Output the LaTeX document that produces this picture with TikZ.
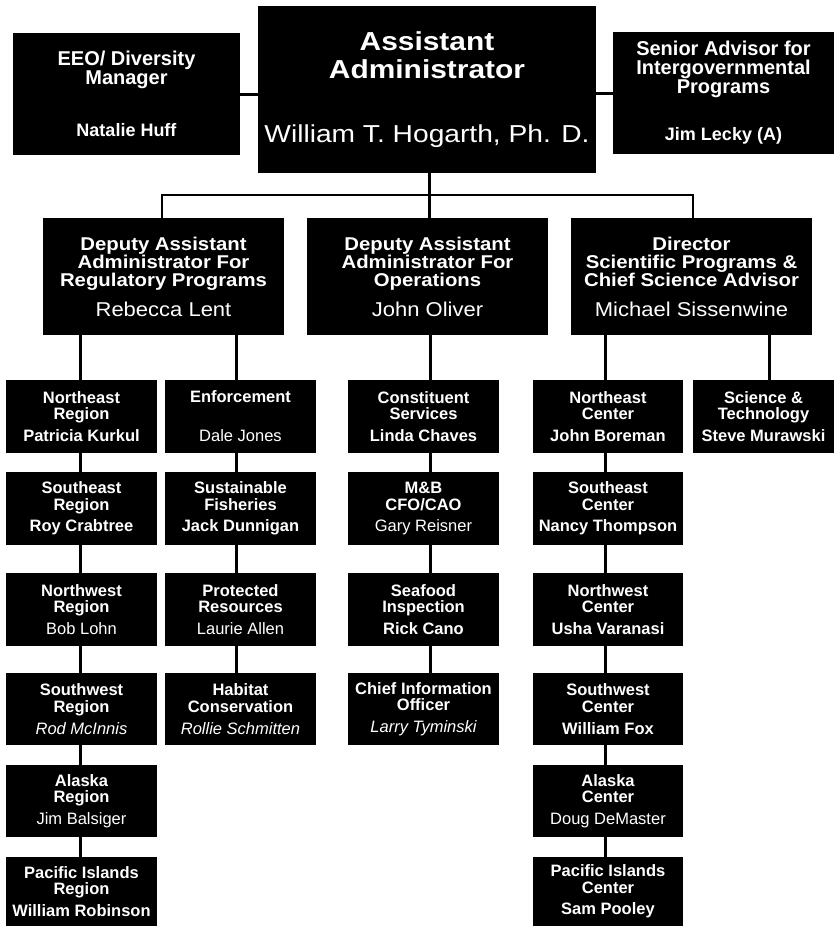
\documentclass[tikz,border=0pt]{standalone}
\usepackage{fontspec}
\setmainfont{Liberation Sans}
\newfontfamily\stretchA{Liberation Sans}[FakeStretch=1.15]
\newfontfamily\stretchB{Liberation Sans}[FakeStretch=1.1]
\begin{document}
\setlength{\lineskiplimit}{-30pt}
\begin{tikzpicture}[x=1pt,y=-1pt,
  box/.style={fill=black,text=white,inner sep=0pt,align=center},
  unit/.style={box,minimum height=73pt,font=\fontsize{16.5}{16.7}\selectfont\bfseries},
  deputy/.style={box,minimum width=241pt,minimum height=117pt,font=\stretchB\fontsize{18.5}{18.3}\selectfont\bfseries},
  side/.style={box,minimum height=122pt,font=\fontsize{20}{19}\selectfont\bfseries},
  conn/.style={line width=3pt},
  busline/.style={line width=2.5pt}]
\useasboundingbox (0,0) rectangle (834,926);

% ---- top row ----
\node[box,minimum width=338pt,minimum height=167pt,font=\stretchA\fontsize{26}{28}\selectfont\bfseries] (aa) at (427,89.5)
  {Assistant\\Administrator\\[36pt]{\mdseries\fontsize{24.5}{28}\selectfont William T. Hogarth, Ph. D.}};
\node[side,minimum width=227pt] (eeo) at (126.5,94)
  {EEO/ Diversity\\Manager\\[33pt]{\fontsize{18}{19}\selectfont Natalie Huff}};
\node[side,minimum width=221pt] (senior) at (723.5,93)
  {Senior Advisor for\\Intergovernmental\\Programs\\[28pt]{\fontsize{18}{19}\selectfont Jim Lecky (A)}};

% ---- second row ----
\node[deputy] (dreg) at (163.5,276.5)
  {Deputy Assistant\\Administrator For\\Regulatory Programs\\[11pt]{\mdseries\fontsize{20}{18}\selectfont Rebecca Lent}};
\node[deputy] (dops) at (427.5,276.5)
  {Deputy Assistant\\Administrator For\\Operations\\[11pt]{\mdseries\fontsize{20}{18}\selectfont John Oliver}};
\node[deputy] (dir) at (691.5,276.5)
  {Director\\Scientific Programs \&\\Chief Science Advisor\\[11pt]{\mdseries\fontsize{20}{18}\selectfont Michael Sissenwine}};

% ---- column A: regions ----
\node[unit,minimum width=151pt] (nereg) at (81.5,416.5) {Northeast\\Region\\[5pt]Patricia Kurkul};
\node[unit,minimum width=151pt] (sereg) at (81.5,508.5) {Southeast\\Region\\[5pt]Roy Crabtree};
\node[unit,minimum width=151pt] (nwreg) at (81.5,609.5) {Northwest\\Region\\[5pt]{\mdseries Bob Lohn}};
\node[unit,minimum width=151pt,minimum height=72pt] (swreg) at (81.5,709) {Southwest\\Region\\[5pt]{\mdseries\itshape Rod McInnis}};
\node[unit,minimum width=151pt,minimum height=72pt] (akreg) at (81.5,801) {Alaska\\Region\\[5pt]{\mdseries Jim Balsiger}};
\node[unit,minimum width=151pt,minimum height=69pt] (pireg) at (81.5,891.5) {Pacific Islands\\Region\\[5pt]William Robinson};

% ---- column B ----
\node[unit,minimum width=151pt] (enf) at (240.5,416.5) {Enforcement\\[22.3pt]{\mdseries Dale Jones}};
\node[unit,minimum width=151pt] (sf) at (240.5,508.5) {Sustainable\\Fisheries\\[5pt]Jack Dunnigan};
\node[unit,minimum width=151pt] (pr) at (240.5,609.5) {Protected\\Resources\\[5pt]{\mdseries Laurie Allen}};
\node[unit,minimum width=151pt,minimum height=72pt] (hc) at (240.5,709) {Habitat\\Conservation\\[5pt]{\mdseries\itshape Rollie Schmitten}};

% ---- column C ----
\node[unit,minimum width=151pt] (cs) at (423.5,416.5) {Constituent\\Services\\[5pt]Linda Chaves};
\node[unit,minimum width=151pt] (mb) at (423.5,508.5) {M\&B\\CFO/CAO\\[5pt]{\mdseries Gary Reisner}};
\node[unit,minimum width=151pt] (si) at (423.5,609.5) {Seafood\\Inspection\\[5pt]Rick Cano};
\node[unit,minimum width=151pt,minimum height=72pt] (cio) at (423.5,709) {Chief Information\\Officer\\[5pt]{\mdseries\itshape Larry Tyminski}};

% ---- column D: centers ----
\node[unit,minimum width=150pt] (nec) at (608,416.5) {Northeast\\Center\\[5pt]John Boreman};
\node[unit,minimum width=150pt] (sec) at (608,508.5) {Southeast\\Center\\[5pt]Nancy Thompson};
\node[unit,minimum width=150pt] (nwc) at (608,609.5) {Northwest\\Center\\[5pt]Usha Varanasi};
\node[unit,minimum width=150pt,minimum height=72pt] (swc) at (608,709) {Southwest\\Center\\[5pt]William Fox};
\node[unit,minimum width=150pt,minimum height=72pt] (akc) at (608,801) {Alaska\\Center\\[5pt]{\mdseries Doug DeMaster}};
\node[unit,minimum width=150pt,minimum height=69pt] (pic) at (608,891.5) {Pacific Islands\\Center\\[5pt]Sam Pooley};

% ---- column E ----
\node[unit,minimum width=141pt] (st) at (763.5,416.5) {Science \&\\Technology\\[5pt]Steve Murawski};

% ---- connector positions ----
\coordinate (bus) at (429,195);
\coordinate (xBL) at (162,0);
\coordinate (xBR) at (693,0);
\coordinate (xA) at (80,0);
\coordinate (xB) at (236,0);
\coordinate (xC) at (430,0);
\coordinate (xD) at (605,0);
\coordinate (xE) at (769,0);

% ---- connectors ----
\draw[conn] (eeo.east) -- (eeo.east -| aa.west);
\draw[conn] (senior.west) -- (senior.west -| aa.east);
\draw[conn] (aa.south -| bus) -- (bus);
\draw[busline] (dreg.north -| xBL) |- (bus) -| (dir.north -| xBR);
\draw[conn] (bus) -- (dops.north -| bus);

\draw[conn] (dreg.south -| xA) -- (nereg.north -| xA);
\draw[conn] (dreg.south -| xB) -- (enf.north -| xB);
\draw[conn] (dops.south -| xC) -- (cs.north -| xC);
\draw[conn] (dir.south -| xD) -- (nec.north -| xD);
\draw[conn] (dir.south -| xE) -- (st.north -| xE);

\foreach \a/\b in {nereg/sereg,sereg/nwreg,nwreg/swreg,swreg/akreg,akreg/pireg}
  \draw[conn] (\a.south -| xA) -- (\b.north -| xA);
\foreach \a/\b in {enf/sf,sf/pr,pr/hc}
  \draw[conn] (\a.south -| xB) -- (\b.north -| xB);
\foreach \a/\b in {cs/mb,mb/si,si/cio}
  \draw[conn] (\a.south -| xC) -- (\b.north -| xC);
\foreach \a/\b in {nec/sec,sec/nwc,nwc/swc,swc/akc,akc/pic}
  \draw[conn] (\a.south -| xD) -- (\b.north -| xD);
\end{tikzpicture}
\end{document}
